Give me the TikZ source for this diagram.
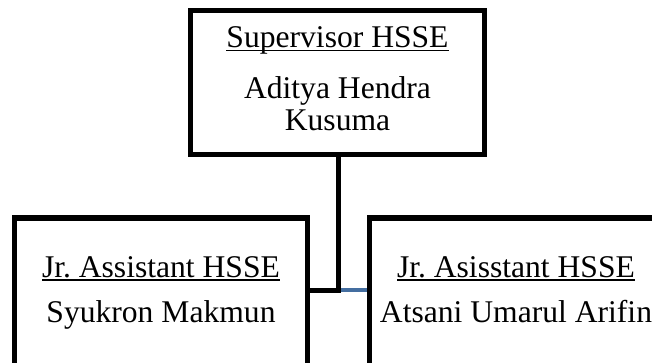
\documentclass[tikz,border=0pt]{standalone}
\usepackage{fontspec}
\setmainfont{Liberation Serif}
\usepackage{tikz}
\usetikzlibrary{positioning, calc}

\definecolor{linkblue}{RGB}{68,110,160}
% underline that runs through the descenders, as in the scan
\newcommand{\rolename}[1]{\setbox0\hbox{#1}\rlap{\rule[-3.5pt]{\wd0}{1.5pt}}\box0}
\newcommand{\lowstrut}{\rule[-7pt]{0pt}{7pt}}

\begin{document}
\begin{tikzpicture}[
  x=1pt, y=-1pt,
  font=\fontsize{31.6}{32}\selectfont,
  box/.style={draw, line width=5.5pt, inner sep=0pt, align=center},
  link/.style={line width=5pt}
]
  \useasboundingbox (0,0) rectangle (652,363);
  \clip (0,0) rectangle (652,363);

  \node[box, minimum width=294pt, minimum height=144pt] (supervisor) at (337.5,82.5) {
    \rolename{Supervisor HSSE}\\[19pt]
    Aditya Hendra\\Kusuma\lowstrut
  };

  \node[box, minimum width=293pt, minimum height=150pt] (syukron) at (161,293) {
    \rolename{Jr.\ Assistant HSSE}\\[13pt]
    Syukron Makmun\lowstrut
  };

  \node[box, minimum width=293pt, minimum height=150pt] (atsani) at (516,293) {
    \rolename{Jr.\ Asisstant HSSE}\\[13pt]
    Atsani Umarul Arifin\lowstrut
  };

  \coordinate (split) at ($(supervisor.south |- 0,290) + (0.5,0)$);
  \draw[link, linkblue, line width=4.5pt] (split) -- (split -| atsani.west);
  \draw[link] (supervisor.south -| split) -- (split) -- (split -| syukron.east);
\end{tikzpicture}
\end{document}
